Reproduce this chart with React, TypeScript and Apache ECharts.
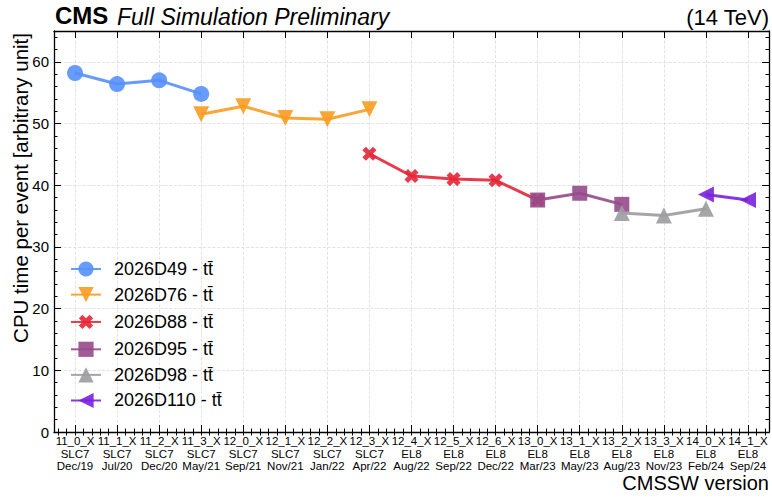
import React, { useEffect, useRef } from "react";
import * as echarts from "echarts";

const categories = ["11_0_X", "11_1_X", "11_2_X", "11_3_X", "12_0_X", "12_1_X", "12_2_X", "12_3_X", "12_4_X", "12_5_X", "12_6_X", "13_0_X", "13_1_X", "13_2_X", "13_3_X", "14_0_X", "14_1_X"];
const osNames = ["SLC7", "SLC7", "SLC7", "SLC7", "SLC7", "SLC7", "SLC7", "SLC7", "EL8", "EL8", "EL8", "EL8", "EL8", "EL8", "EL8", "EL8", "EL8"];
const releaseDates = ["Dec/19", "Jul/20", "Dec/20", "May/21", "Sep/21", "Nov/21", "Jan/22", "Apr/22", "Aug/22", "Sep/22", "Dec/22", "Mar/23", "May/23", "Aug/23", "Nov/23", "Feb/24", "Sep/24"];

const _ = null;
const d49 = [58.2, 56.4, 57.0, 54.8, _, _, _, _, _, _, _, _, _, _, _, _, _];
const d76 = [_, _, _, 51.5, 52.8, 50.9, 50.7, 52.3, _, _, _, _, _, _, _, _, _];
const d88 = [_, _, _, _, _, _, _, 45.1, 41.5, 41.0, 40.8, 37.6, _, _, _, _, _];
const d95 = [_, _, _, _, _, _, _, _, _, _, _, 37.6, 38.7, 36.9, _, _, _];
const d98 = [_, _, _, _, _, _, _, _, _, _, _, _, _, 35.5, 35.1, 36.2, _];
const d110 = [_, _, _, _, _, _, _, _, _, _, _, _, _, _, _, 38.5, 37.6];

const seriesNames = ["2026D49 - tt\u0304", "2026D76 - tt\u0304", "2026D88 - tt\u0304", "2026D95 - tt\u0304", "2026D98 - tt\u0304", "2026D110 - tt\u0304"];
const colors = ["#5790fc", "#f89c20", "#e42536", "#964a8b", "#9c9ca1", "#7a21dd"];

const yTickLabels = [0, 10, 20, 30, 40, 50, 60];

const FONT = "'Liberation Sans', Arial, Helvetica, sans-serif";
const X_PATH = "path://M-1,-3L1,-3L1,-1L3,-1L3,1L1,1L1,3L-1,3L-1,1L-3,1L-3,-1L-1,-1Z";

export default function App() {
  const ref = useRef<HTMLDivElement>(null);
  useEffect(() => {
    if (!ref.current) return;
    const chart = echarts.init(ref.current, undefined, { renderer: "svg" });
    const minorCats = Array.from({ length: categories.length * 5 }, () => "");
    const majorTick = { show: true, inside: true, length: 7, alignWithLabel: true, interval: 0, lineStyle: { color: "#000", width: 1 } };
    const minorTick = { show: true, inside: true, length: 3.5, alignWithLabel: true, interval: 0, lineStyle: { color: "#000", width: 1 } };
    const axisLine = { show: true, onZero: false, lineStyle: { color: "#000", width: 1.3 } };
    const grid = { type: "dashed" as const, color: "#dcdcdc", width: 0.8 };

    const datasets = [d49, d76, d88, d95, d98, d110];
    const symbols = ["circle", "triangle", X_PATH, "rect", "triangle", "triangle"];
    const rotates = [0, 180, 45, 0, 0, 90];
    const sizes = [16, 16, 15, 15, 16, 16];

    const series = datasets.map((d, i) => ({
      name: seriesNames[i],
      type: "line",
      xAxisIndex: 0,
      yAxisIndex: 0,
      data: d,
      symbol: symbols[i],
      symbolRotate: rotates[i],
      symbolSize: sizes[i],
      showAllSymbol: true,
      lineStyle: { width: 3, color: colors[i], opacity: 0.9 },
      itemStyle: { color: colors[i], opacity: 0.9 },
      emphasis: { disabled: true },
    }));

    chart.setOption({
      animation: false,
      grid: { left: 54, top: 31, width: 715, height: 401, containLabel: false },
      legend: {
        orient: "vertical",
        left: 70,
        top: 260,
        padding: 0,
        itemWidth: 30,
        itemHeight: 19,
        itemGap: 7.6,
        data: seriesNames,
        textStyle: { fontFamily: FONT, fontSize: 18, color: "#000", padding: [0, 0, 0, 8] },
      },
      xAxis: [
        {
          type: "category",
          data: categories,
          position: "bottom",
          boundaryGap: true,
          axisLine,
          axisTick: majorTick,
          axisLabel: {
            interval: 0,
            margin: 3,
            fontFamily: FONT,
            fontSize: 11.5,
            lineHeight: 12.5,
            color: "#000",
            formatter: (v: string, i: number) => `${v}\n${osNames[i]}\n${releaseDates[i]}`,
          },
          splitLine: { show: true, alignWithLabel: true, interval: 0, lineStyle: grid },
        },
        { type: "category", data: minorCats, position: "bottom", boundaryGap: true, axisLine: { show: false }, axisTick: minorTick, axisLabel: { show: false }, splitLine: { show: false } },
        { type: "category", data: categories, position: "top", boundaryGap: true, axisLine, axisTick: majorTick, axisLabel: { show: false }, splitLine: { show: false } },
        { type: "category", data: minorCats, position: "top", boundaryGap: true, axisLine: { show: false }, axisTick: minorTick, axisLabel: { show: false }, splitLine: { show: false } },
      ],
      yAxis: [
        {
          type: "value",
          min: 0,
          max: 65,
          interval: 10,
          position: "left",
          axisLine,
          axisTick: { show: true, inside: true, length: 7, lineStyle: { color: "#000" } },
          axisLabel: {
            fontFamily: FONT,
            fontSize: 15,
            color: "#000",
            margin: 5,
            showMaxLabel: false,
            formatter: (v: number) => (yTickLabels.includes(v) ? String(v) : ""),
          },
          splitLine: { show: true, lineStyle: grid },
        },
        { type: "value", min: 0, max: 65, interval: 2, position: "left", axisLine: { show: false }, axisTick: { show: true, inside: true, length: 3.5, lineStyle: { color: "#000" } }, axisLabel: { show: false }, splitLine: { show: false } },
        { type: "value", min: 0, max: 65, interval: 10, position: "right", axisLine, axisTick: { show: true, inside: true, length: 7, lineStyle: { color: "#000" } }, axisLabel: { show: false }, splitLine: { show: false } },
        { type: "value", min: 0, max: 65, interval: 2, position: "right", axisLine: { show: false }, axisTick: { show: true, inside: true, length: 3.5, lineStyle: { color: "#000" } }, axisLabel: { show: false }, splitLine: { show: false } },
      ],
      graphic: [
        { type: "text", x: 55, y: 27, style: { text: "CMS", font: `bold 24px ${FONT}`, fill: "#000", verticalAlign: "bottom" } },
        { type: "text", x: 117, y: 28, style: { text: "Full Simulation Preliminary", font: `italic 23px ${FONT}`, fill: "#000", verticalAlign: "bottom" } },
        { type: "text", x: 769, y: 28, style: { text: "(14 TeV)", font: `22px ${FONT}`, fill: "#000", align: "right", verticalAlign: "bottom" } },
        { type: "text", x: 20, y: 33, rotation: Math.PI / 2, style: { text: "CPU time per event [arbitrary unit]", font: `20.5px ${FONT}`, fill: "#000", align: "right", verticalAlign: "middle" } },
        { type: "text", x: 769, y: 483, style: { text: "CMSSW version", font: `20px ${FONT}`, fill: "#000", align: "right", verticalAlign: "middle" } },
      ],
      series,
    });
    return () => chart.dispose();
  }, []);
  return <div ref={ref} style={{ position: "absolute", left: 0, top: 0, width: 772, height: 500, background: "#fff" }} />;
}
